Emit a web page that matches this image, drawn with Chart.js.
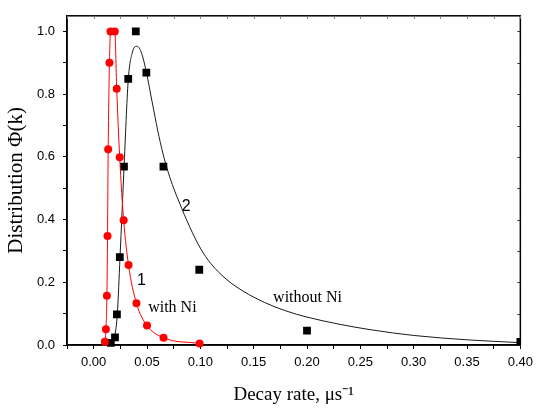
<!DOCTYPE html>
<html>
<head>
<meta charset="utf-8">
<script src="https://cdn.jsdelivr.net/npm/chart.js@4/dist/chart.umd.min.js"></script>
<style>
  html, body { margin: 0; padding: 0; background: #fff; }
  #wrap { width: 539px; height: 410px; }
</style>
</head>
<body>
<div id="wrap"><canvas id="c" width="539" height="410"></canvas></div>
<script>
// ---- data ----
// Series 1: with Ni (red circles, joined by a smooth line)
const withNiX = [0.0105, 0.0115, 0.0124, 0.0130, 0.0136, 0.0148, 0.0158, 0.0198, 0.0216, 0.0244, 0.0281, 0.0327, 0.0401, 0.0500, 0.0655, 0.0993];
const withNiY = [0.010, 0.050, 0.157, 0.348, 0.624, 0.900, 1.000, 1.000, 0.817, 0.599, 0.398, 0.255, 0.133, 0.062, 0.023, 0.005];

// Series 2: without Ni (black squares)
const withoutNiX = [0.0161, 0.0200, 0.0218, 0.0245, 0.0284, 0.0324, 0.0395, 0.0494, 0.0654, 0.0990, 0.200, 0.400];
const withoutNiY = [0.007, 0.024, 0.098, 0.280, 0.569, 0.849, 1.000, 0.869, 0.569, 0.240, 0.046, 0.010];

// Fitted curve for series 2 (black line)
const fitX = [0.0145, 0.017, 0.0198, 0.0222, 0.0247, 0.0284, 0.0324, 0.036, 0.0407, 0.045, 0.0494, 0.055, 0.06, 0.065, 0.07, 0.075, 0.08, 0.09, 0.10, 0.11, 0.125, 0.14, 0.16, 0.18, 0.20, 0.23, 0.26, 0.30, 0.35, 0.40];
const fitY = [0.000, 0.008, 0.030, 0.100, 0.280, 0.560, 0.845, 0.930, 0.953, 0.930, 0.870, 0.772, 0.685, 0.610, 0.550, 0.500, 0.457, 0.377, 0.309, 0.259, 0.208, 0.172, 0.136, 0.109, 0.089, 0.0665, 0.0485, 0.0305, 0.0165, 0.0075];

// Axis ticks
const xTickValues = [-0.025, 0, 0.025, 0.05, 0.075, 0.10, 0.125, 0.15, 0.175, 0.20, 0.225, 0.25, 0.275, 0.30, 0.325, 0.35, 0.375, 0.40];
const xTickLabels = ['', '0.00', '', '0.05', '', '0.10', '', '0.15', '', '0.20', '', '0.25', '', '0.30', '', '0.35', '', '0.40'];
const yTickValues = [0, 0.1, 0.2, 0.3, 0.4, 0.5, 0.6, 0.7, 0.8, 0.9, 1.0];
const yTickLabels = ['0.0', '', '0.2', '', '0.4', '', '0.6', '', '0.8', '', '1.0'];

// Text annotations on the plot (text, x value, y value)
const noteTexts = ['1', 'with Ni', '2', 'without Ni'];
const noteX = [0.0448, 0.0738, 0.0868, 0.2005];
const noteY = [0.207, 0.119, 0.443, 0.149];

// ---- build ----
const pts = (xs, ys) => xs.map((x, i) => ({ x: x, y: ys[i] }));

const noteStyles = [
  { font: '16px "Liberation Sans", Arial, sans-serif' },
  { font: '16px "Liberation Serif", "Times New Roman", serif' },
  { font: '16px "Liberation Sans", Arial, sans-serif' },
  { font: '16px "Liberation Serif", "Times New Roman", serif' }
];

const framePlugin = {
  id: 'frame',
  beforeDatasetsDraw(chart) {
    const a = chart.chartArea, ctx = chart.ctx;
    const xs = chart.scales.x, ys = chart.scales.y;
    ctx.save();
    ctx.strokeStyle = '#000';
    ctx.lineWidth = 1.5;
    ctx.strokeRect(a.left, a.top, a.right - a.left, a.bottom - a.top);
    // inward ticks on top and right edges
    ctx.lineWidth = 1;
    ctx.strokeStyle = '#777';
    xs.ticks.forEach(t => {
      const px = Math.round(xs.getPixelForValue(t.value)) + 0.5;
      ctx.beginPath(); ctx.moveTo(px, a.top); ctx.lineTo(px, a.top + 3); ctx.stroke();
    });
    ctx.strokeStyle = '#333';
    ys.ticks.forEach(t => {
      const py = Math.round(ys.getPixelForValue(t.value)) + 0.5;
      ctx.beginPath(); ctx.moveTo(a.right, py); ctx.lineTo(a.right - 3, py); ctx.stroke();
    });
    ctx.restore();
  },
  afterDraw(chart) {
    const ctx = chart.ctx;
    const xs = chart.scales.x, ys = chart.scales.y;
    ctx.save();
    ctx.fillStyle = '#000';
    ctx.textAlign = 'center';
    ctx.textBaseline = 'middle';
    noteTexts.forEach((t, i) => {
      ctx.font = noteStyles[i].font;
      ctx.fillText(t, xs.getPixelForValue(noteX[i]), ys.getPixelForValue(noteY[i]));
    });
    ctx.restore();
  }
};

const tickFont = { family: '"Liberation Sans", Arial, sans-serif', size: 13 };
const xTitleFont = { family: '"Liberation Serif", "Times New Roman", serif', size: 19 };
const yTitleFont = { family: '"Liberation Serif", "Times New Roman", serif', size: 21 };

new Chart(document.getElementById('c'), {
  type: 'scatter',
  data: {
    datasets: [
      {
        label: 'with Ni',
        data: pts(withNiX, withNiY),
        showLine: true,
        borderColor: '#ff0000',
        borderWidth: 1,
        backgroundColor: '#ff0000',
        pointBackgroundColor: '#ff0000',
        pointBorderWidth: 0,
        pointRadius: 4,
        pointStyle: 'circle',
        cubicInterpolationMode: 'monotone',
        clip: false,
        order: 0
      },
      {
        label: 'without Ni',
        data: pts(withoutNiX, withoutNiY),
        showLine: false,
        backgroundColor: '#000',
        pointBackgroundColor: '#000',
        pointBorderWidth: 0,
        pointRadius: 5.5,
        pointStyle: 'rect',
        clip: { left: false, top: false, right: 0, bottom: false },
        order: 1
      },
      {
        label: 'fit',
        data: pts(fitX, fitY),
        showLine: true,
        borderColor: '#1a1a1a',
        borderWidth: 1,
        pointRadius: 0,
        cubicInterpolationMode: 'monotone',
        clip: false,
        order: 2
      }
    ]
  },
  options: {
    responsive: false,
    animation: false,
    devicePixelRatio: 1,
    layout: { padding: { left: 0, right: 12, top: 6, bottom: 0 } },
    plugins: { legend: { display: false }, tooltip: { enabled: false } },
    scales: {
      x: {
        type: 'linear',
        min: -0.025,
        max: 0.40,
        afterFit: s => { s.height = 65; },
        afterBuildTicks: s => { s.ticks = xTickValues.map(v => ({ value: v })); },
        ticks: {
          autoSkip: false,
          maxRotation: 0,
          padding: 6,
          color: '#000',
          font: tickFont,
          callback: (v, i) => xTickLabels[i]
        },
        grid: { display: true, drawOnChartArea: false, drawTicks: true, tickLength: 4, color: '#000', lineWidth: 1 },
        border: { display: true, color: '#000', width: 1.5 },
        title: { display: true, text: 'Decay rate, μs⁻¹', color: '#000', font: xTitleFont, padding: { top: 0, bottom: 4 } }
      },
      y: {
        type: 'linear',
        min: 0,
        max: 1.05,
        afterFit: s => { s.width = 67; },
        afterBuildTicks: s => { s.ticks = yTickValues.map(v => ({ value: v })); },
        ticks: {
          autoSkip: false,
          padding: 8,
          color: '#000',
          font: tickFont,
          callback: (v, i) => yTickLabels[i]
        },
        grid: { display: true, drawOnChartArea: false, drawTicks: true, tickLength: 4, color: '#000', lineWidth: 1 },
        border: { display: true, color: '#000', width: 1.5 },
        title: { display: true, text: 'Distribution Φ(k)', color: '#000', font: yTitleFont, padding: { top: 4, bottom: 0 } }
      }
    }
  },
  plugins: [framePlugin]
});
</script>
</body>
</html>
